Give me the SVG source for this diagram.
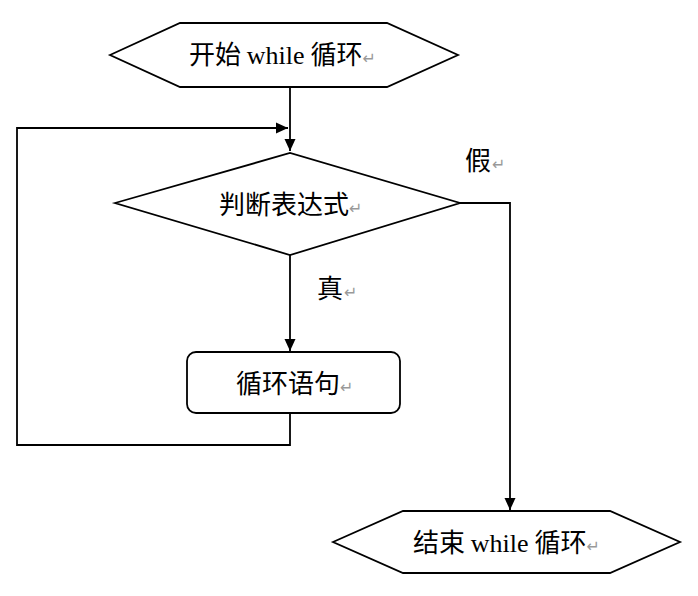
<svg xmlns="http://www.w3.org/2000/svg" width="698" height="596" viewBox="0 0 698 596">
<defs>
<style>
.shape{fill:#fff;stroke:#000;stroke-width:1.8}
.line{fill:none;stroke:#000;stroke-width:1.8}
.cjk{font-family:"Noto Sans CJK SC","Noto Sans CJK TC",sans-serif;font-size:26px;fill:#000}
.lat{font-family:"Liberation Serif",serif;font-size:26px}
.ret{font-family:"DejaVu Sans",sans-serif;font-size:16px;fill:#999}
</style>
<marker id="arr" viewBox="0 0 12 12" refX="12" refY="6" markerWidth="12" markerHeight="12" markerUnits="userSpaceOnUse" orient="auto">
<path d="M0,0.5 L12,6 L0,11.5 z" fill="#000"/>
</marker>
</defs>
<rect width="698" height="596" fill="#fff"/>
<g id="connectors">
<path class="line" d="M290,87 V151" marker-end="url(#arr)"/>
<path class="line" d="M290,413 V445 H17 V128 H288" marker-end="url(#arr)"/>
<path class="line" d="M290,255 V351" marker-end="url(#arr)"/>
<path class="line" d="M460,203 H510 V510" marker-end="url(#arr)"/>
<text class="cjk" x="465" y="170">假<tspan class="ret" dx="1">↵</tspan></text>
<text class="cjk" x="317" y="298">真<tspan class="ret" dx="1">↵</tspan></text>
</g>
<g id="start">
<polygon class="shape" points="110,55 180,23 387,23 458,55 387,87 180,87"/>
<text class="cjk" x="189" y="64">开始 <tspan class="lat">while</tspan> 循环<tspan class="ret">↵</tspan></text>
</g>
<g id="cond">
<polygon class="shape" points="115,203 290,153 460,203 290,255"/>
<text class="cjk" x="219" y="214">判断表达式<tspan class="ret">↵</tspan></text>
</g>
<g id="body">
<rect class="shape" x="187" y="352" width="213" height="61" rx="9"/>
<text class="cjk" x="236" y="393">循环语句<tspan class="ret">↵</tspan></text>
</g>
<g id="end">
<polygon class="shape" points="333,542 403,511 610,511 680,542 610,573 403,573"/>
<text class="cjk" x="413" y="552">结束 <tspan class="lat">while</tspan> 循环<tspan class="ret">↵</tspan></text>
</g>
</svg>
